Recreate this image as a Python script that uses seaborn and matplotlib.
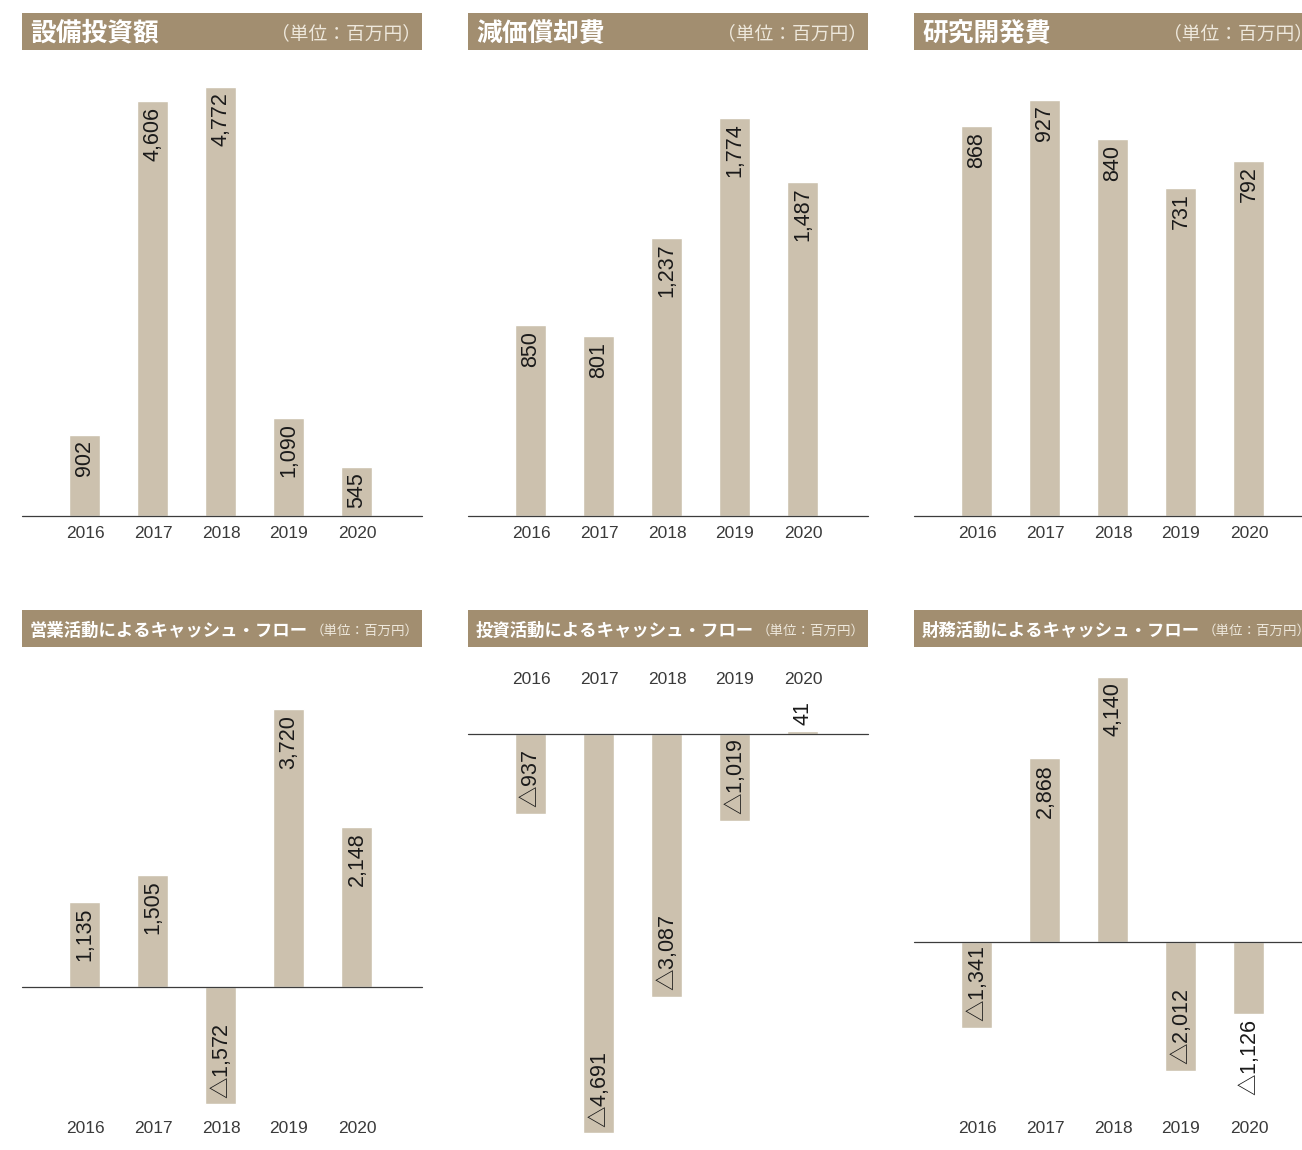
import matplotlib
matplotlib.use("Agg")
import matplotlib.pyplot as plt
from matplotlib.patches import Rectangle
import seaborn as sns

years = ["2016", "2017", "2018", "2019", "2020"]

capex = [902, 4606, 4772, 1090, 545]
depreciation = [850, 801, 1237, 1774, 1487]
rnd = [868, 927, 840, 731, 792]
operating_cf = [1135, 1505, -1572, 3720, 2148]
investing_cf = [-937, -4691, -3087, -1019, 41]
financing_cf = [-1341, 2868, 4140, -2012, -1126]

titles = ["設備投資額", "減価償却費", "研究開発費",
          "営業活動によるキャッシュ・フロー",
          "投資活動によるキャッシュ・フロー",
          "財務活動によるキャッシュ・フロー"]
unit_label = "（単位：百万円）"

HEADER = "#A28E70"
BAR = "#CCC1AE"
LINE = "#3c3c3c"
YEAR_COL = "#3a3a3a"
VAL_COL = "#1a1a1a"

sns.set_style("white")
plt.rcParams["font.family"] = ["Liberation Sans Narrow", "Liberation Sans", "DejaVu Sans"]
# the minus sign triangle comes from the CJK font (large, thin glyph)
plt.rcParams["mathtext.fontset"] = "custom"
plt.rcParams["mathtext.rm"] = "Noto Sans CJK JP"
CJK = ["Noto Sans CJK JP", "DejaVu Sans"]
NUM = ["Liberation Sans Narrow", "Liberation Sans", "DejaVu Sans"]

W, H = 1302, 1150
fig = plt.figure(figsize=(W / 100, H / 100), dpi=100)


def box(x0, y0, x1, y1):
    # pixel box (top-left origin) -> figure fraction rect
    return [x0 / W, 1 - y1 / H, (x1 - x0) / W, (y1 - y0) / H]


def header(x0, y0, title, small):
    fig.add_artist(Rectangle((x0 / W, 1 - (y0 + 37) / H), 400 / W, 37 / H,
                             transform=fig.transFigure, facecolor=HEADER,
                             edgecolor="none"))
    yc = 1 - (y0 + 20.5) / H
    fig.text((x0 + 8) / W, yc, title, family=CJK, color="white",
             fontsize=12.5 if small else 18.5, fontweight="bold", va="center")
    fig.text((x0 + (397 if small else 399)) / W, yc, unit_label,
             family=CJK, color="#EEE8DC", fontsize=9.7 if small else 13.5,
             va="center", ha="right")


def fmt(v):
    return f"{v:,}" if v >= 0 else r"$\mathrm{△}$" + f"{-v:,}"


def panel(rect, vals, ylim, top_ticks=False, pad=5):
    ax = fig.add_axes(rect)
    sns.barplot(x=years, y=vals, color=BAR, saturation=1, width=0.456,
                errorbar=None, ax=ax)
    ax.set_xlim(-0.926, 4.956)
    ax.set_ylim(*ylim)
    ax.axhline(0, color=LINE, lw=0.9, zorder=3, clip_on=False)
    sns.despine(ax=ax, left=True, bottom=True)
    ax.set(xlabel="", ylabel="", yticks=[])
    ax.set_facecolor("none")
    if top_ticks:
        ax.xaxis.tick_top()
    ax.tick_params(axis="x", length=0, pad=pad, labelsize=12.5, labelcolor=YEAR_COL)
    for lab in ax.get_xticklabels():
        lab.set_family(NUM)
    return ax


def value_labels(ax, vals):
    renderer = fig.canvas.get_renderer()
    for i, v in enumerate(vals):
        sign = 1 if v >= 0 else -1
        t = ax.annotate(fmt(v), (i, v), xytext=(0, -4 * sign), textcoords="offset points",
                        rotation=90, ha="center", va="top" if sign > 0 else "bottom",
                        fontsize=15.5, color=VAL_COL, family=NUM, zorder=4)
        bar_px = abs(ax.transData.transform((i, v))[1] - ax.transData.transform((i, 0))[1])
        txt_px = t.get_window_extent(renderer).height
        if txt_px + 8 > bar_px:
            t.xyann = (0, 4 * sign)
            t.set_va("bottom" if sign > 0 else "top")


cols = [22, 468, 914]

# top row
top_data = [(capex, (0, 5067)), (depreciation, (0, 2031)), (rnd, (0, 1016))]
axes = []
for k, (vals, lim) in enumerate(top_data):
    x0 = cols[k]
    header(x0, 13, titles[k], False)
    ax = panel(box(x0, 60, x0 + 400, 516), vals, lim, pad=7)
    axes.append((ax, vals))

# bottom row
header(cols[0], 610, titles[3], True)
ax = panel(box(cols[0], 660, cols[0] + 400, 1115), operating_cf, (-1716, 4383), pad=4.5)
axes.append((ax, operating_cf))

header(cols[1], 610, titles[4], True)
ax = panel(box(cols[1], 692, cols[1] + 400, 1140), investing_cf, (-4771, 494), top_ticks=True, pad=3.5)
axes.append((ax, investing_cf))

header(cols[2], 610, titles[5], True)
ax = panel(box(cols[2], 660, cols[2] + 400, 1115), financing_cf, (-2703, 4406), pad=4.5)
axes.append((ax, financing_cf))

fig.canvas.draw()
for ax, vals in axes:
    value_labels(ax, vals)

fig.savefig("out.png", dpi=100)
